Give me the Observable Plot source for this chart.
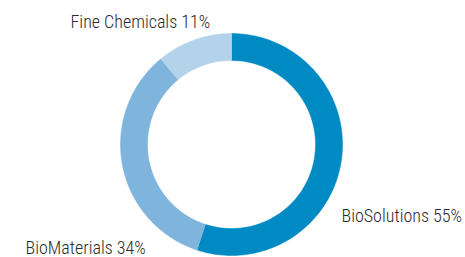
<!DOCTYPE html>
<html>
<head>
<meta charset="utf-8">
<script src="https://cdn.jsdelivr.net/npm/d3@7"></script>
<script src="https://cdn.jsdelivr.net/npm/@observablehq/plot@0.6"></script>
<style>
  html, body { margin: 0; padding: 0; background: #fff; }
  #chart svg { display: block; }
  #chart text { font-stretch: condensed; }
</style>
</head>
<body>
<div id="chart"></div>
<script>
const categories = ["BioSolutions", "BioMaterials", "Fine Chemicals"];
const shares = [55, 34, 11];
const colors = ["#008ac3", "#7fb4dc", "#b3d3ea"];
const labelText = ["BioSolutions 55%", "BioMaterials 34%", "Fine Chemicals 11%"];
const labelX = [110, -206, -161];
const labelY = [-77, -109.7, 116.7];

const W = 465, H = 257;
const cx = 231, cy = 144;
const rOuter = 111, rInner = 84;

const pie = d3.pie().sort(null).value(d => d.value);
const arcs = pie(categories.map((c, i) => ({name: c, value: shares[i]})));

const pts = [];
arcs.forEach(a => {
  const n = 120;
  for (let k = 0; k <= n; k++) {
    const t = a.startAngle + (a.endAngle - a.startAngle) * k / n;
    pts.push({name: a.data.name, x: rOuter * Math.sin(t), y: rOuter * Math.cos(t)});
  }
  for (let k = n; k >= 0; k--) {
    const t = a.startAngle + (a.endAngle - a.startAngle) * k / n;
    pts.push({name: a.data.name, x: rInner * Math.sin(t), y: rInner * Math.cos(t)});
  }
});

const labels = labelText.map((t, i) => ({text: t, x: labelX[i], y: labelY[i]}));

const chart = Plot.plot({
  width: W, height: H,
  margin: 0,
  x: {domain: [-cx, W - cx], axis: null},
  y: {domain: [cy - H, cy], axis: null},
  color: {domain: categories, range: colors},
  style: {fontFamily: "'Roboto Condensed', Roboto, sans-serif"},
  marks: [
    Plot.line(pts, {x: "x", y: "y", z: "name", fill: "name", stroke: "name", strokeWidth: 0.5, curve: "linear"}),
    Plot.text(labels, {
      x: "x", y: "y", text: "text", textAnchor: "start", lineAnchor: "bottom",
      fontSize: 18, fontWeight: 300, fill: "#2b2b2b"
    })
  ]
});
document.getElementById("chart").appendChild(chart);
</script>
</body>
</html>
